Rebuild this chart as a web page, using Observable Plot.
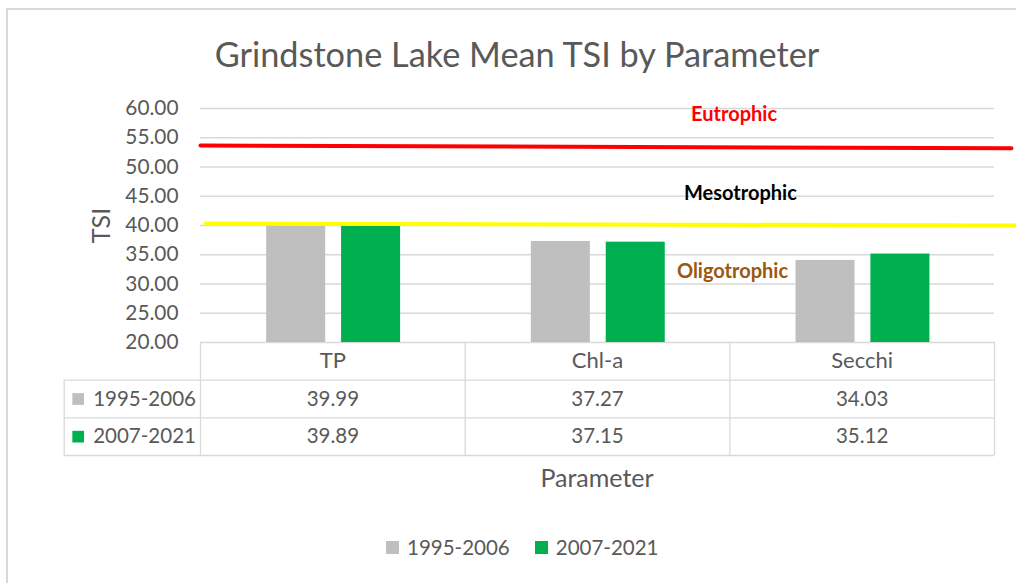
<!DOCTYPE html>
<html><head><meta charset="utf-8">
<script src="https://cdn.jsdelivr.net/npm/d3@7"></script>
<script src="https://cdn.jsdelivr.net/npm/@observablehq/plot@0.6"></script>
<style>
body{margin:0;background:#fff;}
#wrap{position:relative;width:1016px;height:583px;overflow:hidden;font-family:Lato,sans-serif;color:#595959;background:#fff;}
.abs{position:absolute;white-space:nowrap;}
#frame{position:absolute;left:6px;top:8px;right:-10px;bottom:-10px;border-top:2px solid #d9d9d9;border-left:2px solid #d9d9d9;}
.sw{display:inline-block;width:13px;height:13px;vertical-align:middle;}
</style></head><body><div id="wrap"><div id="frame"></div></div>
<script>
const categories = ["TP", "Chl-a", "Secchi"];
const periods = ["1995-2006", "2007-2021"];
const values1995 = [39.99, 37.27, 34.03];
const values2007 = [39.89, 37.15, 35.12];
const periodColors = ["#bfbfbf", "#00b050"];
const yTicks = [20, 25, 30, 35, 40, 45, 50, 55, 60];
const eutrophicLine = [{x: 0, y: 53.68}, {x: 3.064, y: 53.21}];
const mesotrophicLine = [{x: 0.02, y: 40.34}, {x: 3.09, y: 40.0}];
const zoneLabels = [
  {text: "Eutrophic", x: 2.016, y: 58.95, color: "#ff0000"},
  {text: "Mesotrophic", x: 2.04, y: 45.5, color: "#000000"},
  {text: "Oligotrophic", x: 2.01, y: 32.1, color: "#9c5710"}
];
const chartTitle = "Grindstone Lake Mean TSI by Parameter";
const yLabel = "TSI";
const xLabel = "Parameter";

const bars = [];
categories.forEach((c, i) => {
  [values1995, values2007].forEach((vals, k) => bars.push({c, i, k, period: periods[k], value: vals[i]}));
});
const barStart = 0.25, barW = 0.223, barStep = 0.283;
const tableLeft = -0.515;

const wrap = document.getElementById("wrap");

const main = Plot.plot({
  width: 1016, height: 360,
  marginLeft: 200, marginRight: 22, marginTop: 108, marginBottom: 18,
  x: {domain: [0, 3], axis: null},
  y: {domain: [20, 60], ticks: yTicks, tickFormat: d => d.toFixed(2), label: null, tickSize: 0, tickPadding: 22},
  color: {type: "identity"},
  style: {fontFamily: "Lato, sans-serif", fontSize: "20.8px", color: "#595959", background: "transparent", overflow: "visible"},
  marks: [
    Plot.gridY(yTicks, {stroke: "#d9d9d9", strokeOpacity: 1, strokeWidth: 1.3}),
    Plot.rect(bars, {
      x1: d => d.i + barStart + d.k * barStep,
      x2: d => d.i + barStart + d.k * barStep + barW,
      y1: 20, y2: "value",
      fill: d => periodColors[d.k]
    }),
    Plot.line(eutrophicLine, {x: "x", y: "y", stroke: "#ff0000", strokeWidth: 4}),
    Plot.line(mesotrophicLine, {x: "x", y: "y", stroke: "#ffff00", strokeWidth: 4}),
    Plot.text(zoneLabels, {x: "x", y: "y", text: "text", fill: "color", fontWeight: "bold", fontSize: 20}),
    Plot.text([yLabel], {frameAnchor: "left", textAnchor: "middle", dx: -99, rotate: -90, fontSize: 25, fill: "#595959"})
  ]
});
main.style.position = "absolute"; main.style.left = "0px"; main.style.top = "0px";
wrap.appendChild(main);

const table = Plot.plot({
  width: 1016, height: 118,
  marginLeft: 200, marginRight: 22, marginTop: 0, marginBottom: 0,
  x: {domain: [0, 3], axis: null},
  y: {domain: [0, 3], range: [0, 113], axis: null},
  color: {type: "identity"},
  style: {fontFamily: "Lato, sans-serif", fontSize: "20.5px", color: "#595959", background: "transparent", overflow: "visible"},
  marks: [
    Plot.ruleY([1, 2, 3], {x1: tableLeft, x2: 3, stroke: "#d9d9d9", strokeWidth: 1.3}),
    Plot.ruleX([0, 1, 2, 3], {y1: 0, y2: 3, stroke: "#d9d9d9", strokeWidth: 1.3}),
    Plot.ruleX([tableLeft], {y1: 1, y2: 3, stroke: "#d9d9d9", strokeWidth: 1.3}),
    Plot.text(categories, {x: (d, i) => i + 0.5, y: 0.48, text: d => d, fill: "#595959", fontSize: 22}),
    Plot.text(values1995, {x: (d, i) => i + 0.5, y: 1.5, text: d => d.toFixed(2), fill: "#595959"}),
    Plot.text(values2007, {x: (d, i) => i + 0.5, y: 2.5, text: d => d.toFixed(2), fill: "#595959"}),
    Plot.dot(periods, {x: tableLeft, y: (d, i) => i + 1.5, dx: 14, symbol: "square", r: 6.6, fill: (d, i) => periodColors[i], stroke: null}),
    Plot.text(periods, {x: tableLeft, y: (d, i) => i + 1.5, dx: 29, textAnchor: "start", text: d => d, fill: "#595959"})
  ]
});
table.style.position = "absolute"; table.style.left = "0px"; table.style.top = "342px";
wrap.appendChild(table);

function addDiv(html, css) {
  const d = document.createElement("div");
  d.className = "abs";
  d.innerHTML = html;
  Object.assign(d.style, css);
  wrap.appendChild(d);
  return d;
}
addDiv(chartTitle, {left: "0px", width: "1034px", textAlign: "center", top: "33px", height: "42px", lineHeight: "42px", fontSize: "34.3px"});
addDiv(xLabel, {left: "497px", width: "200px", textAlign: "center", top: "462px", height: "30px", lineHeight: "30px", fontSize: "25px"});
const legend = addDiv("", {left: "386px", top: "533px", height: "28px", lineHeight: "28px", fontSize: "20.5px"});
periods.forEach((p, i) => {
  const s = document.createElement("span");
  s.style.marginRight = i === 0 ? "25px" : "0";
  s.innerHTML = `<span class="sw" style="background:${periodColors[i]};margin-right:8px;position:relative;top:-2px"></span>${p}`;
  legend.appendChild(s);
});
</script></body></html>
